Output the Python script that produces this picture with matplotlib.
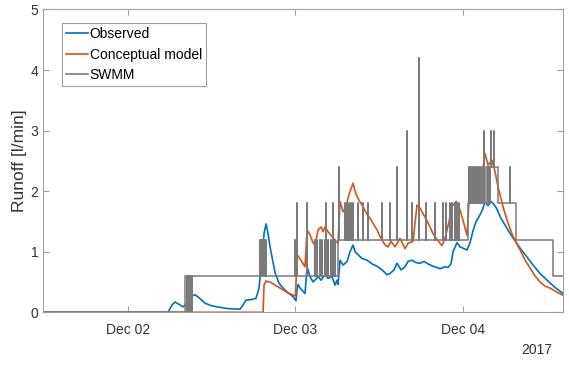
import numpy as np
import pandas as pd
import matplotlib
matplotlib.use('Agg')
import matplotlib.pyplot as plt
import matplotlib.dates as mdates

plt.rcParams['font.family'] = ['Liberation Sans', 'DejaVu Sans']

START = pd.Timestamp('2017-12-02 00:00')
X_FROM, X_TO = -12.14, 62.37   # hours relative to START

### Observed runoff (hours from Dec 02 00:00, l/min)
obs_h = [-12.14, 5.77, 6.35, 6.78, 7.35, 7.92, 8.35, 8.78, 9.21, 9.64, 10.22,
         11.08, 11.94, 12.79, 14.37, 16.09, 16.52, 16.95, 17.67, 18.38, 18.81,
         19.24, 19.53, 19.82, 20.10, 20.39, 21.11, 21.68, 22.25, 22.97, 23.68,
         24.11, 24.26, 24.40, 24.69, 25.40, 25.69, 26.12, 26.55, 26.98, 27.27,
         27.70, 28.27, 28.70, 29.27, 29.70, 29.99, 30.13, 30.42, 30.85, 31.42,
         31.85, 32.28, 32.57, 33.00, 33.57, 34.29, 35.00, 35.72, 36.44, 37.15,
         37.58, 38.16, 38.59, 39.16, 39.73, 40.16, 40.73, 41.31, 41.88, 42.45,
         43.02, 43.74, 44.31, 44.74, 45.46, 45.89, 46.32, 46.61, 47.18, 47.61,
         48.19, 48.62, 49.05, 49.48, 49.91, 50.34, 50.77, 51.20, 51.63, 52.06,
         52.49, 52.92, 53.35, 54.06, 54.78, 55.50, 56.21, 57.22, 58.08, 59.08,
         60.08, 61.23, 62.37]
obs_q = [0, 0, 0.12, 0.17, 0.13, 0.09, 0.13, 0.24, 0.27, 0.29, 0.24,
         0.15, 0.11, 0.09, 0.06, 0.05, 0.12, 0.20, 0.21, 0.23, 0.40,
         0.90, 1.30, 1.46, 1.30, 1.08, 0.65, 0.48, 0.40, 0.32, 0.26,
         0.19, 0.37, 0.46, 0.40, 0.31, 0.75, 0.59, 0.50, 0.55, 0.59,
         0.53, 0.62, 0.56, 0.59, 0.45, 0.53, 0.46, 0.86, 0.78, 0.84,
         1.00, 1.11, 1.00, 0.95, 0.89, 0.86, 0.80, 0.76, 0.70, 0.62,
         0.64, 0.70, 0.81, 0.70, 0.75, 0.84, 0.86, 0.82, 0.81, 0.84,
         0.80, 0.76, 0.74, 0.72, 0.75, 0.74, 0.80, 1.00, 1.15, 1.08,
         1.05, 1.03, 1.15, 1.35, 1.50, 1.58, 1.68, 1.82, 1.76, 1.83,
         1.78, 1.70, 1.58, 1.44, 1.30, 1.18, 1.06, 0.91, 0.78, 0.64,
         0.53, 0.41, 0.31]

### Conceptual model
sim_h = [-12.14, 19.39, 19.53, 19.82, 20.10, 20.39, 20.82, 21.39, 22.11, 22.82,
         23.54, 24.04, 24.26, 24.69, 25.12, 25.40, 25.69, 26.12, 26.55, 26.84,
         27.27, 27.70, 27.98, 28.27, 28.70, 29.27, 29.70, 30.13, 30.42, 30.85,
         31.28, 31.71, 32.28, 32.71, 33.14, 33.57, 34.14, 34.72, 35.15, 35.72,
         36.15, 36.87, 37.30, 37.73, 38.30, 39.02, 39.73, 40.16, 40.88, 41.45,
         41.88, 42.45, 43.02, 43.74, 44.46, 45.03, 45.46, 46.04, 46.47, 47.04,
         47.47, 48.04, 48.62, 49.05, 49.34, 49.62, 50.20, 50.63, 51.20, 51.63,
         52.20, 52.63, 53.06, 53.78, 54.49, 55.21, 56.21, 56.93, 57.65, 58.36,
         59.08, 59.80, 60.51, 61.37, 62.37]
sim_q = [0, 0, 0.45, 0.52, 0.50, 0.50, 0.47, 0.43, 0.38, 0.33,
         0.29, 0.27, 0.95, 0.88, 0.80, 0.75, 1.36, 1.28, 1.15, 1.11,
         1.36, 1.41, 1.33, 1.41, 1.33, 1.25, 1.19, 1.14, 1.83, 1.66,
         1.74, 1.95, 2.13, 1.95, 1.85, 1.77, 1.65, 1.55, 1.47, 1.36,
         1.25, 1.11, 1.08, 1.17, 1.08, 1.22, 1.05, 1.14, 1.17, 1.77,
         1.72, 1.60, 1.48, 1.30, 1.18, 1.10, 1.22, 1.50, 1.75, 1.83,
         1.74, 1.52, 1.27, 2.16, 2.29, 2.07, 2.38, 2.13, 2.62, 2.43,
         2.51, 2.32, 2.07, 1.74, 1.47, 1.25, 1.03, 0.86, 0.73, 0.60,
         0.50, 0.43, 0.40, 0.34, 0.28]

### SWMM: step levels plus single-timestep pulses
swmm_level_h = [-12.14, 8.21, 30.06, 48.69, 51.34, 53.06, 55.64, 60.94, 62.37]
swmm_level_q = [0, 0.6, 1.2, 1.8, 2.4, 1.8, 1.2, 0.6, 0.6]

swmm_pulse_h = [8.50, 8.58, 8.66, 8.74, 8.82, 8.90, 8.98, 9.06, 9.14, 9.22,
                18.95, 19.03, 19.11, 19.19, 19.27, 19.35, 19.43, 19.51, 19.59,
                19.67, 19.75,
                23.97, 24.26, 25.62, 26.84, 27.12, 27.55, 27.84, 28.27, 28.41,
                28.70, 29.13, 29.41, 29.70,
                30.27, 31.13, 31.42, 31.71, 32.00, 32.28, 33.00, 33.71, 34.43,
                36.44, 37.58, 38.59, 40.02, 40.73, 41.74, 42.74, 44.03, 45.18,
                45.61, 46.18, 46.47, 46.90, 47.18, 47.47,
                48.83, 49.05, 49.19, 49.40, 49.62, 49.83, 50.05, 50.34, 50.63,
                50.91, 51.06, 51.63, 51.84, 52.06, 52.49, 54.78]
swmm_pulse_q = [0, 0, 0, 0, 0, 0, 0, 0, 0, 0,
                1.2, 1.2, 1.2, 1.2, 1.2, 1.2, 1.2, 1.2, 1.2,
                1.2, 1.2,
                1.2, 1.8, 1.8, 1.2, 1.2, 1.2, 1.2, 1.2, 1.8,
                1.2, 1.2, 1.8, 1.2,
                2.4, 1.8, 1.8, 1.8, 1.8, 1.8, 1.8, 1.8, 1.8,
                1.8, 1.8, 2.4, 3.0, 1.8, 4.2, 1.8, 1.8, 1.8,
                1.8, 1.8, 1.8, 1.8, 1.8, 1.8,
                2.4, 2.4, 2.4, 2.4, 2.4, 2.4, 2.4, 2.4, 2.4,
                2.4, 3.0, 1.8, 1.8, 3.0, 3.0, 2.4]


def swmm_steps(level_h, level_q, pulse_h, pulse_q, width=0.02):
    level_h = np.asarray(level_h)
    pts = list(zip(level_h, level_q))
    for h, q in zip(pulse_h, pulse_q):
        base = level_q[np.searchsorted(level_h, h, side='right') - 1]
        pts.append((h, q))
        pts.append((h + width, base))
    pts.sort()
    hh, qq = zip(*pts)
    return np.array(hh), np.array(qq)


def to_time(hours):
    return (START + pd.to_timedelta(np.asarray(hours), unit='h')).to_numpy()


swmm_h, swmm_q = swmm_steps(swmm_level_h, swmm_level_q, swmm_pulse_h, swmm_pulse_q)

fig = plt.figure(figsize=(5.69, 3.69), dpi=100)
ax = fig.add_axes([0.0756, 0.1537, 0.9139, 0.8206])

ax.plot(to_time(obs_h), obs_q, color='#0072BD', lw=1.2, label='Observed')
ax.plot(to_time(sim_h), sim_q, color='#D95319', lw=1.2, label='Conceptual model')
ax.plot(to_time(swmm_h), swmm_q, color='#7a7a7a', lw=1.1, drawstyle='steps-post',
        label='SWMM')

ax.set_xlim(to_time([X_FROM])[0], to_time([X_TO])[0])
ax.set_ylim(0, 5)
ax.set_yticks(range(6))
ax.xaxis.set_major_locator(mdates.DayLocator())
ax.xaxis.set_major_formatter(mdates.DateFormatter('%b %d'))

for s in ax.spines.values():
    s.set_color('#a0a0a0')
    s.set_linewidth(0.8)
ax.tick_params(axis='both', direction='in', length=4, width=0.8, color='#a0a0a0',
               labelcolor='#333333', labelsize=10, top=True, right=True)
ax.tick_params(axis='x', pad=8)
ax.tick_params(axis='y', pad=3.5)

ax.set_ylabel('Runoff [l/min]', fontsize=12.5, color='#333333')
ax.yaxis.set_label_coords(-0.031, 0.5)
ax.text(0.979, -0.1245, '2017', transform=ax.transAxes, ha='right', va='center',
        fontsize=10, color='#333333')

leg = ax.legend(loc='upper left', bbox_to_anchor=(0.0365, 0.955), borderaxespad=0,
                fontsize=10, handlelength=1.6, handletextpad=0.1,
                labelspacing=0.45, borderpad=0.3, fancybox=False, framealpha=1)
leg.get_frame().set_edgecolor('#a0a0a0')
leg.get_frame().set_linewidth(0.8)
for line in leg.get_lines():
    line.set_linewidth(1.2)

fig.savefig('out.png', dpi=100)
